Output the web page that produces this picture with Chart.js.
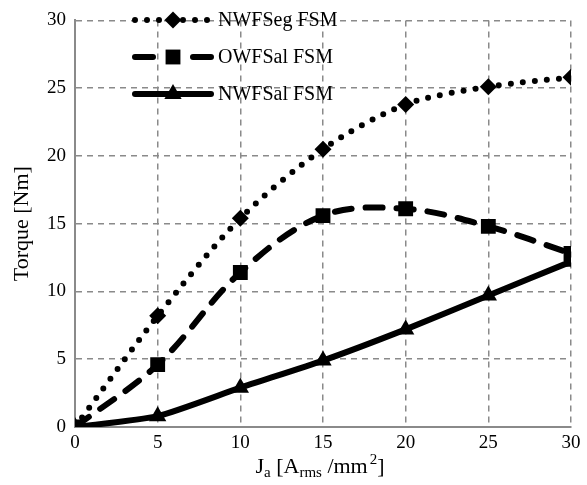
<!DOCTYPE html>
<html>
<head>
<meta charset="utf-8">
<script src="https://cdn.jsdelivr.net/npm/chart.js@4/dist/chart.umd.min.js"></script>
<style>
  html, body { margin: 0; padding: 0; background: #fff; }
  #wrap { width: 587px; height: 485px; }
</style>
</head>
<body>
<div id="wrap"><canvas id="c"></canvas></div>
<script>
const currentDensity = [0, 5, 10, 15, 20, 25, 30];
const nwfsegTorque = [0, 8.2, 15.4, 20.5, 23.8, 25.1, 25.8];
const owfsalTorque = [0, 4.6, 11.4, 15.6, 16.1, 14.8, 12.8];
const nwfsalTorque = [0, 0.8, 2.9, 4.9, 7.2, 9.7, 12.2];
const seriesNames = ['NWFSeg FSM', 'OWFSal FSM', 'NWFSal FSM'];

const FONT = '"Liberation Serif", "DejaVu Serif", serif';
const GRID = '#8a8a8a';

const pts = ys => currentDensity.map((x, i) => ({x, y: ys[i]}));

// legend: line sample + marker, drawn inside the plot top-left
const lineLegend = {
  id: 'lineLegend',
  afterDraw(chart) {
    const ctx = chart.ctx;
    const rows = [20, 57, 94];
    chart.data.datasets.forEach((ds, i) => {
      const y = rows[i];
      ctx.save();
      ctx.strokeStyle = '#000';
      ctx.lineWidth = ds.borderWidth;
      ctx.lineCap = 'round';
      ctx.setLineDash(ds.legendDash);
      ctx.beginPath();
      ctx.moveTo(135, y);
      ctx.lineTo(211, y);
      ctx.stroke();
      ctx.restore();
      Chart.helpers.drawPoint(ctx, {
        pointStyle: ds.pointStyle, radius: ds.pointRadius, borderWidth: 0, rotation: 0
      }, 173, y);
      ctx.save();
      ctx.fillStyle = '#000';
      ctx.font = '20px ' + FONT;
      ctx.textBaseline = 'middle';
      ctx.fillText(ds.label, 218, y + 1);
      ctx.restore();
    });
  }
};

// x axis title with subscripts / superscript
const xTitle = {
  id: 'xTitle',
  afterDraw(chart) {
    const ctx = chart.ctx;
    const parts = [
      ['J', 22, 0], ['a', 15, 4], [' [A', 22, 0], ['rms', 15, 4],
      [' /mm', 22, 0], [' ', 8, 0], ['2', 15, -9], [']', 22, 0]
    ];
    ctx.save();
    ctx.fillStyle = '#000';
    ctx.textBaseline = 'alphabetic';
    let w = 0;
    parts.forEach(p => { ctx.font = p[1] + 'px ' + FONT; w += ctx.measureText(p[0]).width; });
    let x = 320 - w / 2;
    const base = 473;
    parts.forEach(p => {
      ctx.font = p[1] + 'px ' + FONT;
      ctx.fillText(p[0], x, base + p[2]);
      x += ctx.measureText(p[0]).width;
    });
    ctx.restore();
  }
};

new Chart(document.getElementById('c'), {
  type: 'line',
  data: {
    datasets: [
      {
        label: seriesNames[0], data: pts(nwfsegTorque),
        borderColor: '#000', backgroundColor: '#000', borderWidth: 6,
        borderDash: [0, 12], borderCapStyle: 'round', legendDash: [0, 12],
        pointStyle: 'rectRot', pointRadius: 8.5, pointBorderWidth: 0, tension: 0.3, order: 2
      },
      {
        label: seriesNames[1], data: pts(owfsalTorque),
        borderColor: '#000', backgroundColor: '#000', borderWidth: 6,
        borderDash: [17, 14], borderCapStyle: 'round', legendDash: [18, 40],
        pointStyle: 'rect', pointRadius: 10.5, pointBorderWidth: 0, tension: 0.35, order: 1
      },
      {
        label: seriesNames[2], data: pts(nwfsalTorque),
        borderColor: '#000', backgroundColor: '#000', borderWidth: 6,
        borderCapStyle: 'round', legendDash: [],
        pointStyle: 'triangle', pointRadius: 10, pointBorderWidth: 0, tension: 0.2, order: 3
      }
    ]
  },
  options: {
    responsive: true,
    maintainAspectRatio: false,
    animation: false,
    layout: { padding: { top: 16, right: 16, left: 0, bottom: 0 } },
    plugins: { legend: { display: false }, tooltip: { enabled: false } },
    scales: {
      x: {
        type: 'linear', min: 0, max: 30,
        ticks: { stepSize: 5, color: '#000', font: { family: FONT, size: 19 }, padding: 5 },
        grid: { color: GRID, lineWidth: 1.5, drawTicks: false },
        border: { color: GRID, width: 2, dash: [6, 5] },
        afterFit: s => { s.height = 58; }
      },
      y: {
        min: 0, max: 30,
        ticks: { stepSize: 5, color: '#000', font: { family: FONT, size: 19 }, padding: 9 },
        grid: { color: GRID, lineWidth: 1.5, drawTicks: false },
        border: { color: GRID, width: 2, dash: [6, 5] },
        title: { display: true, text: 'Torque [Nm]', color: '#000', font: { family: FONT, size: 22 }, padding: { top: 9, bottom: 0 } },
        afterFit: s => { s.width = 75; }
      }
    }
  },
  plugins: [lineLegend, xTitle]
});
</script>
</body>
</html>
